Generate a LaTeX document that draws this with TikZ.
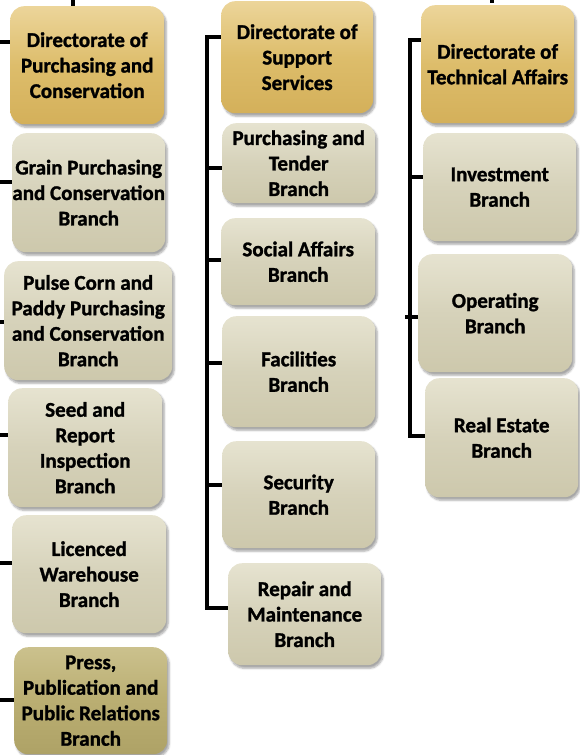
\documentclass[tikz,border=0pt]{standalone}
\usepackage{fontspec}
\setmainfont{Carlito}[BoldFont={Carlito Bold}, BoldFeatures={FakeBold=1.3}]
\usetikzlibrary{shadows.blur}
\definecolor{goldtop}{HTML}{ECD59A}
\definecolor{goldmid}{HTML}{DDBD6B}
\definecolor{goldbot}{HTML}{D4B05A}
\definecolor{brtop}{HTML}{E6E3D0}
\definecolor{brmid}{HTML}{D6D2BA}
\definecolor{brbot}{HTML}{CDC8AC}
\definecolor{olvtop}{HTML}{CBC18D}
\definecolor{olvmid}{HTML}{BAAE72}
\definecolor{olvbot}{HTML}{AEA266}
\tikzset{
  box/.style={rounded corners=14pt, anchor=north west, inner sep=0pt, align=center,
    font=\bfseries\fontsize{21}{25.5}\selectfont,
    blur shadow={shadow xshift=2pt, shadow yshift=-3pt, shadow blur steps=6, shadow opacity=35}},
  gold/.style={box, top color=goldtop, bottom color=goldbot, middle color=goldmid},
  branch/.style={box, top color=brtop, bottom color=brbot, middle color=brmid},
  olive/.style={box, top color=olvtop, bottom color=olvbot, middle color=olvmid},
  conn/.style={line width=3.2pt, black}
}
\begin{document}
\begin{tikzpicture}[x=1pt,y=-1pt]
\useasboundingbox (0,0) rectangle (580,755);
% left column
\node[gold, minimum width=154pt, minimum height=118pt] (b1) at (10,6) {Directorate of\\Purchasing and\\Conservation};
\node[branch, minimum width=153pt, minimum height=119pt] (b2) at (12,133) {Grain Purchasing\\and Conservation\\Branch};
\node[branch, minimum width=168pt, minimum height=119pt] (b3) at (4,261) {Pulse Corn and\\Paddy Purchasing\\and Conservation\\Branch};
\node[branch, minimum width=154pt, minimum height=119pt] (b4) at (8,388) {Seed and\\Report\\Inspection\\Branch};
\node[branch, minimum width=154pt, minimum height=118pt] (b5) at (12,515) {Licenced\\Warehouse\\Branch};
\node[olive, minimum width=153pt, minimum height=107pt] (b6) at (14,647) {Press,\\Publication and\\Public Relations\\Branch};
% middle column
\node[gold, minimum width=152pt, minimum height=112pt] (m1) at (221,1) {Directorate of\\Support\\Services};
\node[branch, minimum width=153pt, minimum height=80pt] (m2) at (222,123) {Purchasing and\\Tender\\Branch};
\node[branch, minimum width=154pt, minimum height=87pt] (m3) at (221,218) {Social Affairs\\Branch};
\node[branch, minimum width=153pt, minimum height=111pt] (m4) at (222,316) {Facilities\\Branch};
\node[branch, minimum width=153pt, minimum height=107pt] (m5) at (222,441) {Security\\Branch};
\node[branch, minimum width=153pt, minimum height=102pt] (m6) at (228,563) {Repair and\\Maintenance\\Branch};
% right column
\node[gold, minimum width=153pt, minimum height=118pt] (r1) at (421,5) {Directorate of\\Technical Affairs};
\node[branch, minimum width=153pt, minimum height=108pt] (r2) at (423,133) {Investment\\Branch};
\node[branch, minimum width=154pt, minimum height=118pt] (r3) at (418,254) {Operating\\Branch};
\node[branch, minimum width=153pt, minimum height=119pt] (r4) at (425,378) {Real Estate\\Branch};
% coordinates
\coordinate (T1) at (73,0);
\coordinate (T2) at (492,0);
\coordinate (L1) at (0,42);
\coordinate (L2) at (0,182);
\coordinate (L3) at (0,322);
\coordinate (L4) at (0,435);
\coordinate (L5) at (0,563);
\coordinate (L6) at (0,700);
\coordinate (M1) at (207,37);
\coordinate (M2) at (207,168);
\coordinate (M3) at (207,260);
\coordinate (M4) at (207,363);
\coordinate (M5) at (207,485);
\coordinate (M6) at (207,608);
\coordinate (R1) at (410,40);
\coordinate (R2) at (410,177);
\coordinate (R3) at (405,317);
\coordinate (R4) at (410,436);
% connectors
\draw[conn] (T1) -- (T1 |- b1.north);
\draw[conn] (T2) -- ([yshift=2pt]T2 |- r1.north);
\foreach \i in {1,...,6}{\draw[conn] (L\i) -- (L\i -| b\i.west);}
\draw[conn] ([yshift=1.6pt]M1) -- ([yshift=-1.6pt]M6);
\foreach \i in {1,...,6}{\draw[conn] (M\i) -- (M\i -| m\i.west);}
\draw[conn] ([yshift=1.6pt]R1) -- ([yshift=-1.6pt]R4);
\foreach \i in {1,...,4}{\draw[conn] (R\i) -- (R\i -| r\i.west);}
\end{tikzpicture}
\end{document}
